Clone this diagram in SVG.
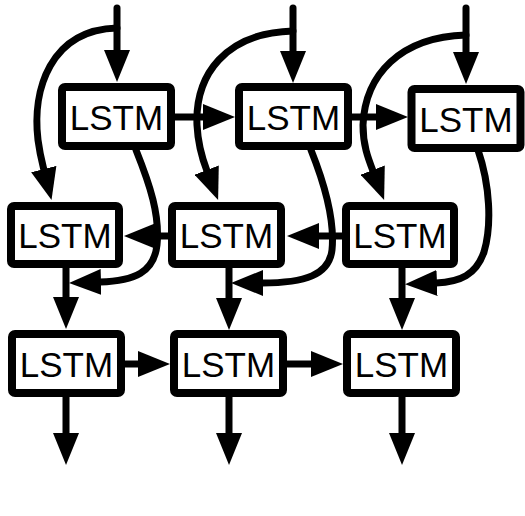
<svg xmlns="http://www.w3.org/2000/svg" width="525" height="516" viewBox="0 0 525 516">
<style>
.c{fill:none;stroke:#000;stroke-width:7;stroke-linecap:round;marker-end:url(#ah)}
.b{fill:#fff;stroke:#000;stroke-width:8;stroke-linejoin:round}
.t{font-family:"Liberation Sans",Arial,Helvetica,sans-serif;font-size:35px;text-anchor:middle;fill:#000}
</style>
<defs>
<marker id="ah" markerUnits="userSpaceOnUse" viewBox="0 0 32 26" markerWidth="32" markerHeight="26" refX="1" refY="13" orient="auto">
<path d="M0,0 L32,13 L0,26 z" fill="#000"/>
</marker>
</defs>
<rect width="525" height="516" fill="#fff"/>
<g id="connectors">
<path class="c" d="M117,8 V51"/>
<path class="c" d="M293,8 V52"/>
<path class="c" d="M466,8 V53"/>
<path class="c" d="M117,28 C50,30 32,90 38,140 C40,155 42,162 44,170"/>
<path class="c" d="M293,31 C225,33 195,75 197,125 C198,145 202,158 207,171"/>
<path class="c" d="M466,35 C400,37 365,75 363,125 C363,145 368,158 373,171"/>
<path class="c" d="M175,117 H204"/>
<path class="c" d="M352,117 H377"/>
<path class="c" d="M168,236 H155"/>
<path class="c" d="M342,236 H318"/>
<path class="c" d="M125,364 H139"/>
<path class="c" d="M287,364 H312"/>
<path class="c" d="M66,268 V298"/>
<path class="c" d="M229,268 V299"/>
<path class="c" d="M402,268 V299"/>
<path class="c" d="M66,397 V434"/>
<path class="c" d="M229,397 V434"/>
<path class="c" d="M402,397 V434"/>
<path class="c" d="M136,150 C150,185 160,215 157,245 C154,272 135,281 100,282"/>
<path class="c" d="M311,150 C325,185 335,220 332,250 C329,275 305,283 262,283"/>
<path class="c" d="M478,150 C490,185 492,225 484,252 C476,275 460,282 436,283"/>
</g>
<g id="top1"><rect class="b" x="62" y="87" width="109" height="59" rx="3"/><text class="t" x="116.5" y="129.5">LSTM</text></g>
<g id="top2"><rect class="b" x="239" y="87" width="109" height="59" rx="3"/><text class="t" x="293.5" y="129.5">LSTM</text></g>
<g id="top3"><rect class="b" x="411.5" y="89" width="109" height="59" rx="3"/><text class="t" x="466" y="131.5">LSTM</text></g>
<g id="mid1"><rect class="b" x="11" y="206" width="108" height="58" rx="3"/><text class="t" x="65" y="248">LSTM</text></g>
<g id="mid2"><rect class="b" x="172" y="206" width="109" height="58" rx="3"/><text class="t" x="226.5" y="248">LSTM</text></g>
<g id="mid3"><rect class="b" x="346" y="206" width="108" height="58" rx="3"/><text class="t" x="400" y="248">LSTM</text></g>
<g id="bot1"><rect class="b" x="12" y="334" width="109" height="59" rx="3"/><text class="t" x="66.5" y="376.5">LSTM</text></g>
<g id="bot2"><rect class="b" x="174" y="334" width="109" height="59" rx="3"/><text class="t" x="228.5" y="376.5">LSTM</text></g>
<g id="bot3"><rect class="b" x="347" y="334" width="109" height="59" rx="3"/><text class="t" x="401.5" y="376.5">LSTM</text></g>
</svg>
